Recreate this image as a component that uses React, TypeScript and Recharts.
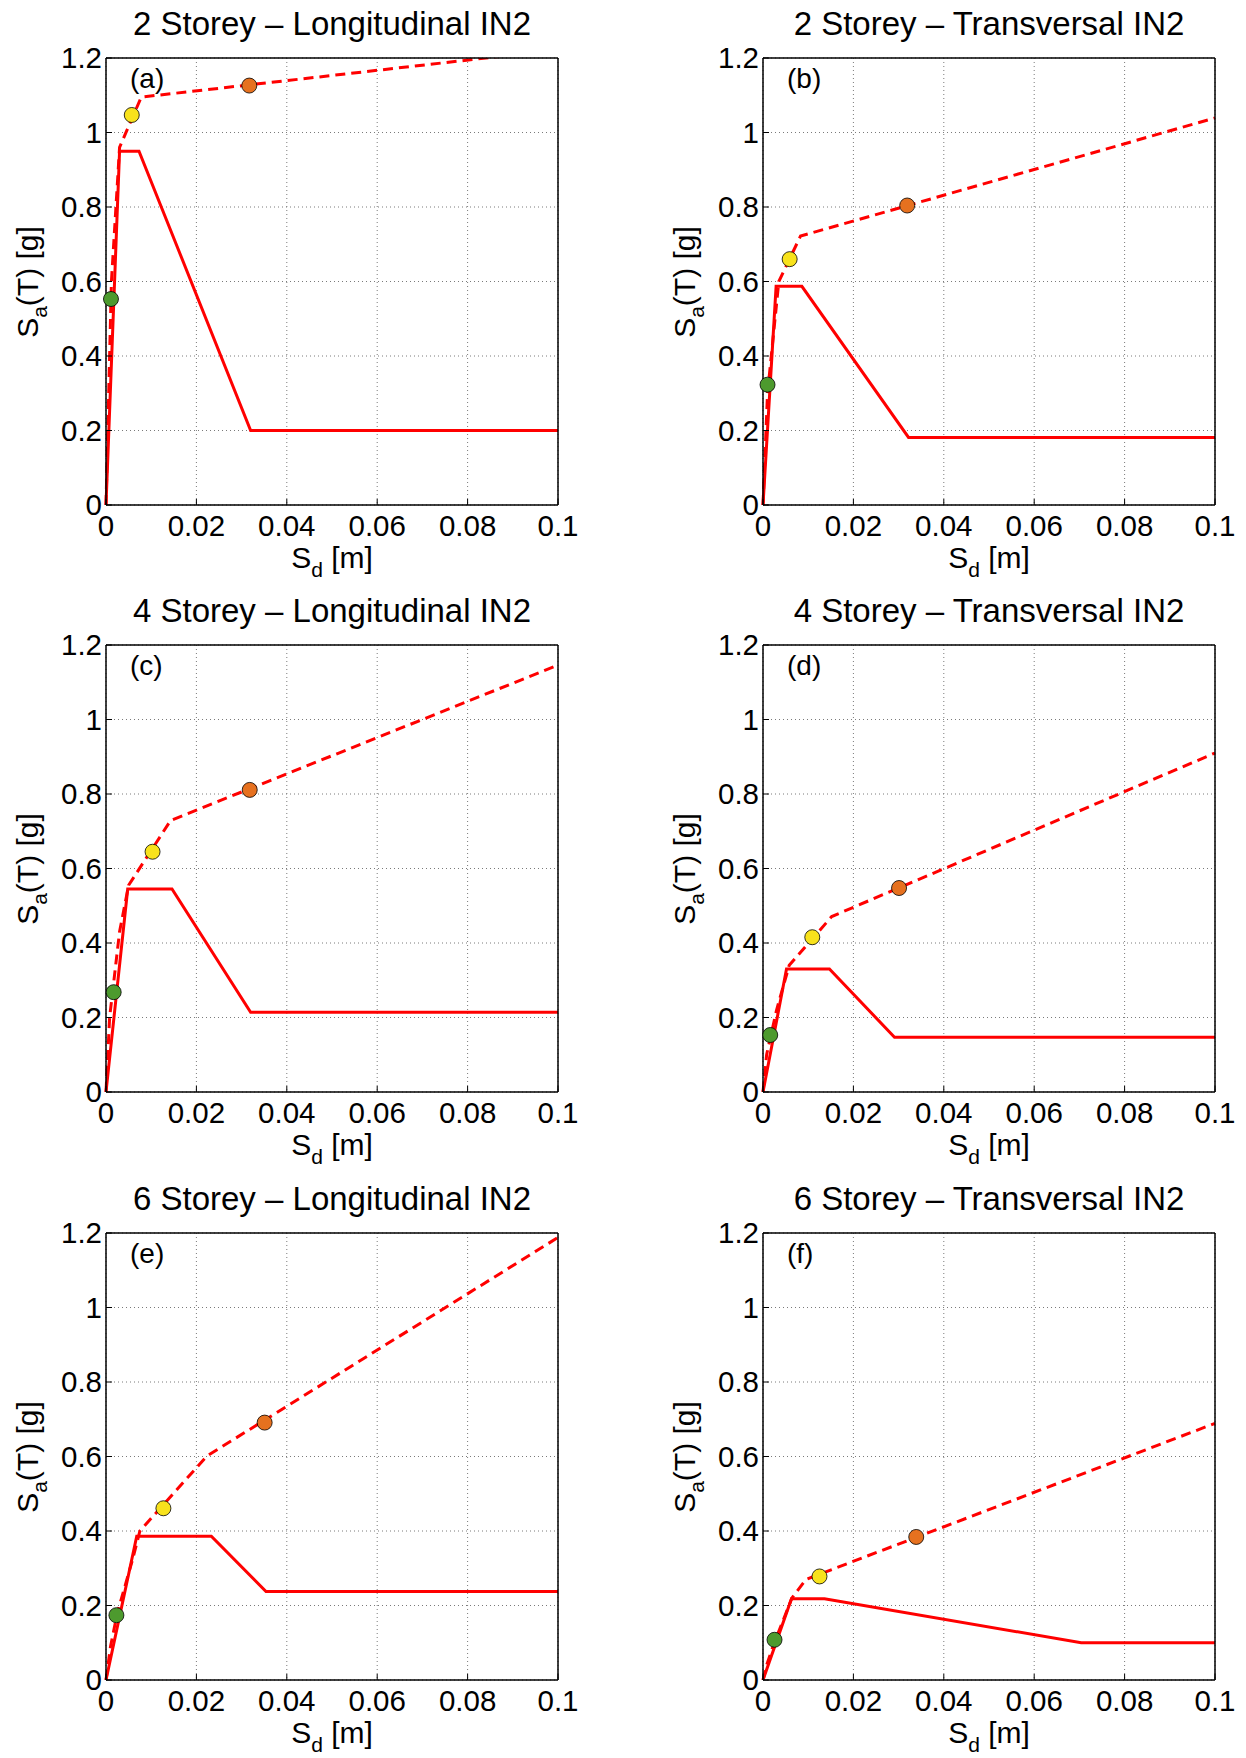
import React from "react";
import { ComposedChart, Line, Scatter, XAxis, YAxis, CartesianGrid } from "recharts";

type Pt = [number, number];

// (a) 2 storey, longitudinal
const aSolid: Pt[] = [[0, 0], [0.003, 0.95], [0.0073, 0.95], [0.032, 0.2], [0.1, 0.2]];
const aDashed: Pt[] = [[0, 0], [0.0006, 0.3], [0.0012, 0.6], [0.003, 0.96], [0.0078, 1.095], [0.1, 1.222]];
const aPoints: Pt[] = [[0.0011, 0.553], [0.0057, 1.047], [0.0317, 1.126]];

// (b) 2 storey, transversal
const bSolid: Pt[] = [[0, 0], [0.0029, 0.587], [0.0086, 0.587], [0.0322, 0.1815], [0.1, 0.1815]];
const bDashed: Pt[] = [[0, 0], [0.001, 0.3], [0.0035, 0.6], [0.0083, 0.722], [0.1, 1.039]];
const bPoints: Pt[] = [[0.001, 0.323], [0.0059, 0.66], [0.0319, 0.804]];

// (c) 4 storey, longitudinal
const cSolid: Pt[] = [[0, 0], [0.0048, 0.545], [0.0146, 0.545], [0.032, 0.214], [0.1, 0.214]];
const cDashed: Pt[] = [[0, 0], [0.0008, 0.2], [0.003, 0.43], [0.005, 0.555], [0.0143, 0.729], [0.1, 1.146]];
const cPoints: Pt[] = [[0.0017, 0.268], [0.0103, 0.645], [0.0318, 0.811]];

// (d) 4 storey, transversal
const dSolid: Pt[] = [[0, 0], [0.0052, 0.33], [0.0147, 0.33], [0.0291, 0.147], [0.1, 0.147]];
const dDashed: Pt[] = [[0, 0], [0.0008, 0.1], [0.003, 0.22], [0.0058, 0.34], [0.0152, 0.471], [0.1, 0.91]];
const dPoints: Pt[] = [[0.0016, 0.153], [0.0109, 0.4155], [0.0301, 0.5476]];

// (e) 6 storey, longitudinal
const eSolid: Pt[] = [[0, 0], [0.0068, 0.386], [0.0233, 0.386], [0.0354, 0.2376], [0.1, 0.2376]];
const eDashed: Pt[] = [[0, 0], [0.001, 0.09], [0.0025, 0.18], [0.0058, 0.32], [0.0075, 0.4], [0.0223, 0.601], [0.1, 1.188]];
const ePoints: Pt[] = [[0.0023, 0.174], [0.0127, 0.461], [0.0351, 0.691]];

// (f) 6 storey, transversal
const fSolid: Pt[] = [[0, 0], [0.0063, 0.218], [0.0136, 0.218], [0.0704, 0.1], [0.1, 0.1]];
const fDashed: Pt[] = [[0, 0], [0.0008, 0.04], [0.0025, 0.1], [0.0064, 0.22], [0.0095, 0.27], [0.1, 0.689]];
const fPoints: Pt[] = [[0.00255, 0.108], [0.0125, 0.278], [0.0339, 0.384]];

const xTicks = [0, 0.02, 0.04, 0.06, 0.08, 0.1];
const yTicks = [0, 0.2, 0.4, 0.6, 0.8, 1, 1.2];

const titles = [
  "2 Storey \u2013 Longitudinal IN2",
  "2 Storey \u2013 Transversal IN2",
  "4 Storey \u2013 Longitudinal IN2",
  "4 Storey \u2013 Transversal IN2",
  "6 Storey \u2013 Longitudinal IN2",
  "6 Storey \u2013 Transversal IN2",
];
const letters = ["(a)", "(b)", "(c)", "(d)", "(e)", "(f)"];
const pointColors = ["#4d9a2e", "#f8e21c", "#e6711f"];

const FONT = '"Liberation Sans", Arial, Helvetica, sans-serif';
const ML = 60;
const MT = 20;
const MR = 30;
const XH = 40;
const PW = 452;
const PH = 447;
const CW = ML + PW + MR;
const CH = MT + PH + XH;
const colLeft = [106, 763];
const rowTop = [58, 645, 1233];

const tickStyle = { fontSize: 29.5, fill: "#000", fontFamily: FONT };
const axisLine = { stroke: "#000", strokeWidth: 1.5 };

const toXY = (arr: Pt[]) => arr.map(([x, y]) => ({ x, y }));

function Panel(props: {
  i: number;
  solid: Pt[];
  dashed: Pt[];
  points: Pt[];
}) {
  const { i, solid, dashed, points } = props;
  const left = colLeft[i % 2];
  const top = rowTop[Math.floor(i / 2)];
  const pts = points.map(([x, y], k) => ({ x, y, c: pointColors[k] }));

  return (
    <>
      <div
        style={{
          position: "absolute",
          left: left + PW / 2,
          top: top - 51,
          transform: "translateX(-50%)",
          fontSize: 33,
          lineHeight: 1,
          whiteSpace: "nowrap",
          fontFamily: FONT,
        }}
      >
        {titles[i]}
      </div>
      <div style={{ position: "absolute", left: left - ML, top: top - MT }}>
        <ComposedChart width={CW} height={CH} margin={{ top: MT, right: MR, bottom: 0, left: 0 }}>
          <CartesianGrid stroke="#7a7a7a" strokeDasharray="1 3" />
          <XAxis
            dataKey="x"
            type="number"
            domain={[0, 0.1]}
            ticks={xTicks}
            interval={0}
            height={XH}
            tickSize={-6}
            tickMargin={16}
            tick={tickStyle}
            axisLine={axisLine}
            tickLine={{ stroke: "#000" }}
          />
          <XAxis
            xAxisId="top"
            orientation="top"
            mirror
            dataKey="x"
            type="number"
            domain={[0, 0.1]}
            ticks={xTicks}
            interval={0}
            tick={false}
            tickSize={6}
            axisLine={axisLine}
            tickLine={{ stroke: "#000" }}
          />
          <YAxis
            type="number"
            domain={[0, 1.2]}
            allowDataOverflow
            ticks={yTicks}
            interval={0}
            width={ML}
            tickSize={-6}
            tickMargin={10}
            tick={tickStyle}
            axisLine={axisLine}
            tickLine={{ stroke: "#000" }}
          />
          <YAxis
            yAxisId="right"
            orientation="right"
            mirror
            type="number"
            domain={[0, 1.2]}
            ticks={yTicks}
            interval={0}
            tick={false}
            tickSize={6}
            axisLine={axisLine}
            tickLine={{ stroke: "#000" }}
          />
          <Line
            data={toXY(solid)}
            dataKey="y"
            type="linear"
            stroke="#ff0000"
            strokeWidth={3}
            dot={false}
            isAnimationActive={false}
          />
          <Line
            data={toXY(dashed)}
            dataKey="y"
            type="linear"
            stroke="#ff0000"
            strokeWidth={3}
            strokeDasharray="10 6"
            dot={false}
            isAnimationActive={false}
          />
          <Scatter
            data={pts}
            dataKey="y"
            isAnimationActive={false}
            shape={(p: any) => (
              <circle cx={p.cx} cy={p.cy} r={7.5} fill={p.payload.c} stroke="#000" strokeWidth={0.8} />
            )}
          />
        </ComposedChart>
      </div>
      <div
        style={{
          position: "absolute",
          left: left + 24,
          top: top + 7,
          fontSize: 28,
          lineHeight: 1,
          fontFamily: FONT,
        }}
      >
        {letters[i]}
      </div>
      <div
        style={{
          position: "absolute",
          left: left - 78,
          top: top + PH / 2,
          transform: "translate(-50%, -50%) rotate(-90deg)",
          fontSize: 30,
          lineHeight: 1,
          whiteSpace: "nowrap",
          fontFamily: FONT,
        }}
      >
        S<span style={{ fontSize: 21, position: "relative", top: 9 }}>a</span>(T) [g]
      </div>
      <div
        style={{
          position: "absolute",
          left: left + PW / 2,
          top: top + PH + 38,
          transform: "translateX(-50%)",
          fontSize: 30,
          lineHeight: 1,
          whiteSpace: "nowrap",
          fontFamily: FONT,
        }}
      >
        S<span style={{ fontSize: 21, position: "relative", top: 9 }}>d</span> [m]
      </div>
    </>
  );
}

export default function App() {
  return (
    <div
      style={{
        position: "absolute",
        left: 0,
        top: 0,
        width: 1246,
        height: 1758,
        background: "#fff",
        color: "#000",
        overflow: "hidden",
      }}
    >
      <Panel i={0} solid={aSolid} dashed={aDashed} points={aPoints} />
      <Panel i={1} solid={bSolid} dashed={bDashed} points={bPoints} />
      <Panel i={2} solid={cSolid} dashed={cDashed} points={cPoints} />
      <Panel i={3} solid={dSolid} dashed={dDashed} points={dPoints} />
      <Panel i={4} solid={eSolid} dashed={eDashed} points={ePoints} />
      <Panel i={5} solid={fSolid} dashed={fDashed} points={fPoints} />
    </div>
  );
}
